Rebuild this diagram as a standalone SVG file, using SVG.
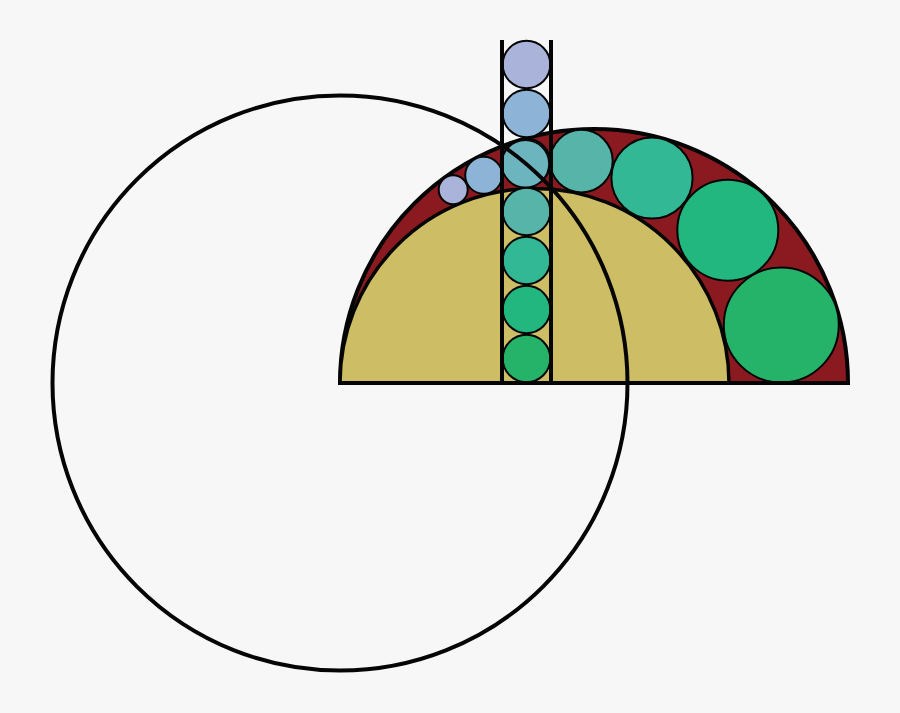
<svg xmlns="http://www.w3.org/2000/svg" width="900" height="713" viewBox="0 0 900 713">
<style>
.big{fill:#8b1a20;stroke:#050505;stroke-width:4}
.inner{fill:#cdbd64;stroke:#050505;stroke-width:3.5}
.c{stroke:#050505;stroke-width:2}
.line{fill:none;stroke:#050505;stroke-width:4}
</style>
<rect width="900" height="713" fill="#f7f7f7"/>
<g id="arbelos">
<path class="big" d="M340 383 A254 254 0 0 1 848 383 Z"/>
<path class="inner" d="M340 383 A194.5 194.5 0 0 1 729 383 Z"/>
</g>
<g id="chain">
<circle class="c" cx="781.3" cy="325" r="57.5" fill="#24b368"/>
<circle class="c" cx="727.8" cy="230.2" r="50.5" fill="#22b77e"/>
<circle class="c" cx="652" cy="178" r="40.6" fill="#33b895"/>
<circle class="c" cx="581.4" cy="161.1" r="31.3" fill="#56b5a8"/>
<circle class="c" cx="453.2" cy="189.7" r="14.5" fill="#aab3da"/>
<circle class="c" cx="483.7" cy="175.3" r="18.5" fill="#8db4d6"/>
</g>
<g id="strip">
<circle class="c" cx="526.5" cy="358.5" r="23.8" fill="#24b368"/>
<circle class="c" cx="526.5" cy="309.5" r="23.8" fill="#22b77e"/>
<circle class="c" cx="526.5" cy="260.5" r="23.8" fill="#33b895"/>
<circle class="c" cx="526.5" cy="211.5" r="23.8" fill="#56b5a8"/>
<circle class="c" cx="526.5" cy="162.5" r="23.8" fill="#6cb4be"/>
<circle class="c" cx="525.4" cy="163.8" r="23.8" fill="#6cb4be"/>
<circle class="c" cx="526.5" cy="113.5" r="23.8" fill="#8db4d6"/>
<circle class="c" cx="526.5" cy="64.5" r="23.8" fill="#aab3da"/>
</g>
<g id="connectors">
<line class="line" x1="502" y1="40" x2="502" y2="383" stroke-width="3.5"/>
<line class="line" x1="551" y1="40" x2="551" y2="383" stroke-width="3.5"/>
<path class="line" d="M340 383 L848 383"/>
<circle class="line" cx="340" cy="383" r="287.5"/>
</g>
</svg>
